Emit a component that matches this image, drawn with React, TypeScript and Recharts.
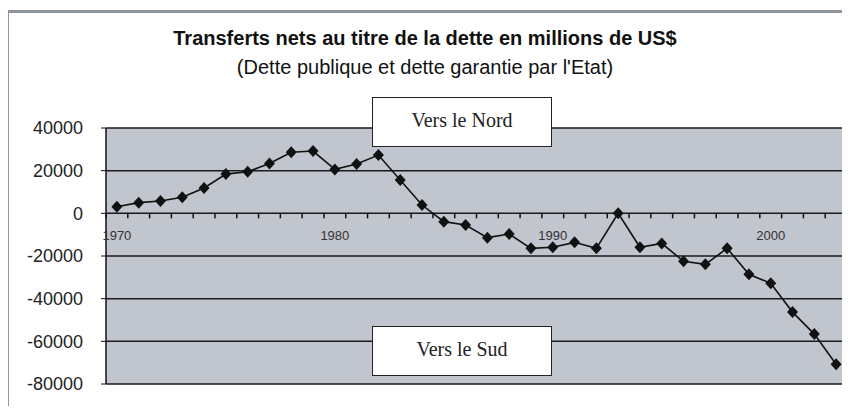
import React from 'react';
import {
  LineChart,
  Line,
  XAxis,
  YAxis,
  CartesianGrid,
  ReferenceLine,
} from 'recharts';

const years = [
  1970, 1971, 1972, 1973, 1974, 1975, 1976, 1977, 1978, 1979,
  1980, 1981, 1982, 1983, 1984, 1985, 1986, 1987, 1988, 1989,
  1990, 1991, 1992, 1993, 1994, 1995, 1996, 1997, 1998, 1999,
  2000, 2001, 2002, 2003,
];
const transfers = [
  3100, 5000, 5800, 7500, 11900, 18400, 19500, 23400, 28600, 29200,
  20600, 23100, 27300, 15600, 3900, -3900, -5500, -11400, -9700, -16400,
  -15900, -13600, -16400, 0, -15900, -14100, -22500, -23900, -16400, -28600,
  -32800, -46300, -56600, -70700,
];
const yTicks = [40000, 20000, 0, -20000, -40000, -60000, -80000];
const yearLabels = [1970, 1980, 1990, 2000];
const tickMarks = [...years.map((y) => y - 0.5), years[years.length - 1] + 0.5];

const chartData = years.map((year, i) => ({ year, value: transfers[i] }));

const W = 850;
const H = 414;
const TOP = 128;
const BOTTOM = 30;
const Y_MIN = -80000;
const Y_MAX = 40000;
const PLOT_H = H - TOP - BOTTOM;
// the category axis crosses at 0, not at the bottom
const ZERO_Y = TOP + (PLOT_H * Y_MAX) / (Y_MAX - Y_MIN);

const TickMark = (props: any) => {
  const { x } = props;
  return <line x1={x} x2={x} y1={ZERO_Y} y2={ZERO_Y + 5} stroke="#111" strokeWidth={1.5} />;
};

const YearLabel = (props: any) => {
  const { x, payload } = props;
  return (
    <text x={x} y={ZERO_Y + 27} textAnchor="middle" fontSize={13} fill="#333"
      fontFamily="'Liberation Sans', Arial, sans-serif">
      {payload.value}
    </text>
  );
};

const Diamond = (props: any) => {
  const { cx, cy, index } = props;
  if (cx == null || cy == null) return null;
  return (
    <path key={`d-${index}`}
      d={`M${cx},${cy - 6} L${cx + 5.5},${cy} L${cx},${cy + 6} L${cx - 5.5},${cy} Z`}
      fill="#111" />
  );
};

const boxStyle: React.CSSProperties = {
  position: 'absolute',
  left: 372,
  width: 180,
  height: 50,
  boxSizing: 'border-box',
  background: '#fff',
  border: '1.5px solid #222',
  fontFamily: "'Liberation Serif', 'Times New Roman', serif",
  fontSize: 20,
  color: '#222',
  textAlign: 'center',
  lineHeight: '44px',
};

export default function App() {
  return (
    <div style={{ position: 'relative', width: W, height: H, margin: -8, background: '#fff', overflow: 'hidden' }}>
      <div style={{ position: 'absolute', left: 6, top: 10, width: 860, height: 430, border: '3px solid #8e959d' }} />
      <div style={{ position: 'absolute', left: 0, top: 0 }}>
        <LineChart width={W} height={H} data={chartData}
          margin={{ top: TOP, right: 3, bottom: 0, left: 0 }}>
          <CartesianGrid xAxisId="marks" horizontal vertical={false} fill="#c1c5cd" stroke="#1a1a1a"
            strokeWidth={1.5} fillOpacity={1} />
          <XAxis xAxisId="marks" dataKey="year" type="number" domain={[1969.5, 2003.5]}
            ticks={tickMarks} interval={0} height={BOTTOM / 2} axisLine={false} tickLine={false} tick={TickMark} />
          <XAxis xAxisId="labels" dataKey="year" type="number" domain={[1969.5, 2003.5]}
            ticks={yearLabels} interval={0} height={BOTTOM / 2} axisLine={false} tickLine={false} tick={YearLabel} />
          <YAxis domain={[Y_MIN, Y_MAX]} ticks={yTicks} interval={0} width={106}
            axisLine={{ stroke: '#111', strokeWidth: 1.5 }} tickLine={{ stroke: '#111' }}
            tickSize={5} tickMargin={18}
            tick={{ fontSize: 18, fill: '#222', fontFamily: "'Liberation Sans', Arial, sans-serif" }} />
          <ReferenceLine xAxisId="marks" x={2003.5} stroke="#8a8f96" strokeWidth={1.5} />
          <Line xAxisId="marks" type="linear" dataKey="value" stroke="#111" strokeWidth={1.6}
            dot={Diamond} activeDot={false} isAnimationActive={false} />
        </LineChart>
      </div>
      <div style={{ position: 'absolute', left: 0, width: W, top: 28, lineHeight: '20px', textAlign: 'center',
        fontFamily: "'Liberation Sans', Arial, sans-serif", fontWeight: 'bold', fontSize: 20, color: '#111' }}>
        Transferts nets au titre de la dette en millions de US$
      </div>
      <div style={{ position: 'absolute', left: 0, width: W, top: 57, lineHeight: '20px', textAlign: 'center',
        fontFamily: "'Liberation Sans', Arial, sans-serif", fontSize: 20, color: '#111' }}>
        (Dette publique et dette garantie par l'Etat)
      </div>
      <div style={{ ...boxStyle, top: 97 }}>Vers le Nord</div>
      <div style={{ ...boxStyle, top: 326 }}>Vers le Sud</div>
    </div>
  );
}
